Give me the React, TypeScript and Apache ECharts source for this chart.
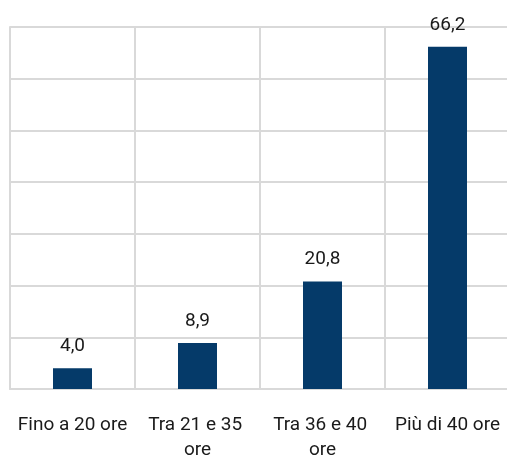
import React, { useEffect, useRef } from "react";
import * as echarts from "echarts";

const categories = ["Fino a 20 ore", "Tra 21 e 35 ore", "Tra 36 e 40 ore", "Più di 40 ore"];
const values = [4.0, 8.9, 20.8, 66.2];

export default function App() {
  const ref = useRef<HTMLDivElement>(null);
  useEffect(() => {
    if (!ref.current) return;
    const chart = echarts.init(ref.current, null, { renderer: "svg" });
    const font = "Roboto, 'Noto Sans', sans-serif";
    chart.setOption({
      animation: false,
      grid: { left: 10, right: 0, top: 27, bottom: 72, containLabel: false, outerBoundsMode: "none" },
      xAxis: {
        type: "category",
        data: categories,
        axisLine: { show: true, lineStyle: { color: "#d9d9d9", width: 2 } },
        axisTick: { show: false },
        splitLine: { show: true, lineStyle: { color: "#d9d9d9", width: 2 } },
        axisLabel: {
          color: "#1a1a1a",
          fontFamily: font,
          fontSize: 19,
          lineHeight: 25,
          margin: 22,
          width: 120,
          overflow: "break",
          interval: 0,
        },
      },
      yAxis: {
        type: "value",
        min: 0,
        max: 70,
        interval: 10,
        axisLabel: { show: false },
        axisLine: { show: true, lineStyle: { color: "#d9d9d9", width: 2 } },
        axisTick: { show: false },
        splitLine: { show: true, lineStyle: { color: "#d9d9d9", width: 2 } },
      },
      series: [
        {
          type: "bar",
          data: values,
          barWidth: 39,
          itemStyle: { color: "#053a69" },
          label: {
            show: true,
            position: "top",
            distance: 14,
            color: "#1a1a1a",
            fontFamily: font,
            fontSize: 19,
            formatter: (p: any) => p.value.toFixed(1).replace(".", ","),
          },
        },
      ],
    });
    return () => chart.dispose();
  }, []);
  return (
    <div
      ref={ref}
      style={{ position: "fixed", left: 0, top: 0, width: 510, height: 461 }}
    />
  );
}
